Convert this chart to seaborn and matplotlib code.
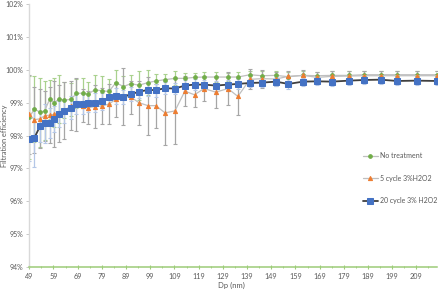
import matplotlib
matplotlib.use("Agg")
import matplotlib.pyplot as plt
import seaborn as sns
import pandas as pd
from matplotlib.ticker import FuncFormatter, FixedLocator

sns.set_theme(style="white")
plt.rcParams['font.family'] = ['Lato', 'DejaVu Sans']

dp = [49.0, 51.1, 53.4, 55.3, 57.4, 59.4, 61.3, 63.5, 66.2, 68.5, 71.0, 73.2, 76.1, 79.2,
      81.9, 84.8, 87.9, 91.0, 94.3, 98.0, 101.3, 105.1, 109.2, 113.3, 117.3, 121.2, 126.1,
      131.1, 135.2, 140.2, 145.1, 150.9, 156.1, 162.1, 168.1, 174.0, 181.1, 187.3, 194.3,
      200.9, 209.2, 217.4]

no_treat = [98.55, 98.81, 98.71, 98.75, 99.10, 99.00, 99.11, 99.08, 99.10, 99.28, 99.29, 99.26,
            99.39, 99.36, 99.34, 99.61, 99.49, 99.58, 99.53, 99.61, 99.66, 99.70, 99.74, 99.74,
            99.77, 99.78, 99.78, 99.78, 99.78, 99.85, 99.82, 99.83, 99.79, 99.83, 99.82, 99.83,
            99.83, 99.85, 99.85, 99.85, 99.85, 99.85]
no_treat_err = [1.25, 1.0, 1.05, 0.9, 0.6, 0.75, 0.74, 0.55, 0.5, 0.45, 0.45, 0.38, 0.45, 0.44,
                0.38, 0.37, 0.31, 0.25, 0.44, 0.37, 0.22, 0.18, 0.21, 0.16, 0.13, 0.14, 0.14,
                0.13, 0.14, 0.12, 0.13, 0.12, 0.13, 0.12, 0.12, 0.12, 0.12, 0.12, 0.12, 0.12,
                0.12, 0.12]

cyc5 = [98.65, 98.48, 98.51, 98.60, 98.62, 98.65, 98.68, 98.75, 98.91, 98.95, 98.91, 98.85,
        98.88, 98.90, 98.96, 99.10, 99.19, 99.17, 99.00, 98.91, 98.91, 98.69, 98.75, 99.35,
        99.24, 99.43, 99.32, 99.43, 99.19, 99.71, 99.73, 99.72, 99.80, 99.83, 99.77, 99.80,
        99.81, 99.82, 99.82, 99.82, 99.82, 99.82]
cyc5_err = [1.2, 1.0, 0.9, 0.76, 0.85, 1.0, 0.87, 0.87, 0.75, 0.8, 0.5, 0.5, 0.65, 0.55,
            0.6, 0.53, 0.86, 0.5, 0.67, 0.88, 0.67, 0.97, 1.0, 0.45, 0.36, 0.39, 0.48, 0.49,
            0.56, 0.3, 0.27, 0.22, 0.15, 0.15, 0.15, 0.15, 0.15, 0.15, 0.15, 0.15, 0.15, 0.15]

cyc20 = [97.88, 97.93, 98.28, 98.37, 98.39, 98.51, 98.65, 98.74, 98.85, 98.97, 98.95, 98.99,
         99.00, 99.04, 99.16, 99.21, 99.18, 99.26, 99.33, 99.39, 99.38, 99.44, 99.43, 99.52,
         99.55, 99.55, 99.52, 99.55, 99.57, 99.60, 99.61, 99.64, 99.57, 99.64, 99.65, 99.64,
         99.67, 99.69, 99.70, 99.66, 99.67, 99.66]
cyc20_err = [0.65, 0.9, 0.48, 0.6, 0.45, 0.4, 0.4, 0.35, 0.35, 0.3, 0.3, 0.28, 0.28, 0.25,
             0.25, 0.25, 0.22, 0.22, 0.2, 0.2, 0.2, 0.18, 0.18, 0.17, 0.16, 0.15, 0.15, 0.15,
             0.15, 0.13, 0.13, 0.13, 0.14, 0.12, 0.12, 0.12, 0.12, 0.12, 0.12, 0.12, 0.12, 0.12]

labels = ["No treatment", "5 cycle 3%H2O2", "20 cycle 3% H2O2"]
x_ticks = [49, 59, 69, 79, 89, 99, 109, 119, 129, 139, 149, 159, 169, 179, 189, 199, 209]
y_ticks = [94, 95, 96, 97, 98, 99, 100, 101, 102]

fig = plt.figure(figsize=(4.4, 2.91), dpi=100)
ax = fig.add_axes([0.0666, 0.0825, 0.927, 0.9035])

series = [
    (no_treat, no_treat_err, labels[0], "#70AD47", "o", 2.6, "#BFBFBF", 0.9, "#A9D18E"),
    (cyc5, cyc5_err, labels[1], "#ED7D31", "^", 3.0, "#BFBFBF", 0.9, "#A6A6A6"),
    (cyc20, cyc20_err, labels[2], "#4472C4", "s", 4.3, "#404040", 1.3, "#B4C7E7"),
]

for vals, err, lab, mcol, mk, ms, lcol, lw, ecol in series:
    ax.errorbar(dp, vals, yerr=err, fmt="none", ecolor=ecol, elinewidth=0.9,
                capsize=1.5, capthick=0.8, zorder=2)

for vals, err, lab, mcol, mk, ms, lcol, lw, ecol in series:
    df = pd.DataFrame({"Dp": dp, "eff": vals})
    sns.lineplot(data=df, x="Dp", y="eff", ax=ax, color=lcol, linewidth=lw,
                 marker=mk, markersize=ms, markerfacecolor=mcol, markeredgecolor=mcol,
                 label=lab, zorder=3)

ax.set_xlim(49, 217.6)
ax.set_ylim(94, 102)
ax.xaxis.set_major_locator(FixedLocator(x_ticks))
ax.xaxis.set_minor_locator(FixedLocator([t + 5 for t in x_ticks]))
ax.yaxis.set_major_locator(FixedLocator(y_ticks))
ax.yaxis.set_major_formatter(FuncFormatter(lambda v, p: f"{v:.0f}%"))
ax.xaxis.set_major_formatter(FuncFormatter(lambda v, p: f"{v:.0f}"))

for s in ["top", "right"]:
    ax.spines[s].set_visible(False)
ax.spines["left"].set_color("#D9D9D9")
ax.spines["left"].set_linewidth(1.0)
ax.spines["bottom"].set_color("#9DCC78")
ax.spines["bottom"].set_linewidth(1.1)

ax.tick_params(axis="x", which="major", direction="inout", length=3, width=0.8,
               color="#9DCC78", labelsize=5.2, labelcolor="#595959", pad=3, bottom=True)
ax.tick_params(axis="x", which="minor", direction="inout", length=2, width=0.6,
               color="#9DCC78", bottom=True)
ax.tick_params(axis="y", which="major", direction="out", length=2.5, width=0.6,
               color="#BFBFBF", labelsize=5.0, labelcolor="#595959", pad=2, left=True)

ax.set_xlabel("")
ax.set_ylabel("")
fig.text(0.525, 0.018, "Dp (nm)", fontsize=5.5, color="#595959", ha="center", va="center")
fig.text(0.011, 0.535, "Filtration efficiency", fontsize=5.3, color="#595959",
         ha="center", va="center", rotation=90)

leg = ax.legend(loc="upper left", bbox_to_anchor=(0.818, 0.487), bbox_transform=fig.transFigure,
                frameon=False, fontsize=5, labelcolor="#595959", handlelength=2.2,
                labelspacing=2.25, handletextpad=0.3, borderaxespad=0)

fig.savefig("out.png", dpi=100)
